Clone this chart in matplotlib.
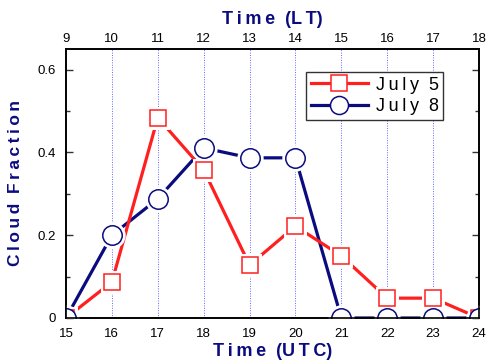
import matplotlib
matplotlib.use("Agg")
import matplotlib.pyplot as plt
from matplotlib.lines import Line2D

plt.rcParams['font.family'] = ['Liberation Sans', 'DejaVu Sans']

hours_utc = [15, 16, 17, 18, 19, 20, 21, 22, 23, 24]
july5 = [0.0, 0.087, 0.484, 0.358, 0.128, 0.222, 0.150, 0.048, 0.048, 0.0]
july8 = [0.0, 0.200, 0.288, 0.411, 0.387, 0.387, 0.0, 0.0, 0.0, 0.0]
lt_labels = ['9', '10', '11', '12', '13', '14', '15', '16', '17', '18']
yticks = [0, 0.2, 0.4, 0.6]
ytick_labels = ['0', '0.2', '0.4', '0.6']

navy = '#0b0b80'
red = '#ff1f1f'
HS = '\u2009'


def spaced(s):
    return HS.join(s)


fig = plt.figure(figsize=(4.92, 3.63), dpi=100)
ax = fig.add_axes([66/492, 1-318/363, (479-66)/492, (318-49)/363])

for x in hours_utc[1:-1]:
    ax.axvline(x, color='#6666ff', lw=0.7, ls=(0, (1, 1.5)), zorder=1)

ax.plot(hours_utc, july5, color=red, lw=2.3, zorder=3, solid_capstyle='butt')
ax.plot(hours_utc, july8, color=navy, lw=2.3, zorder=2, solid_capstyle='butt')
ax.plot(hours_utc, july5, ls='none', marker='s', ms=12, mfc='white', mec='white', mew=5, zorder=4)
ax.plot(hours_utc, july5, ls='none', marker='s', ms=12, mfc='white', mec=red, mew=1.1, zorder=5)
ax.plot(hours_utc, july8, ls='none', marker='o', ms=14, mfc='white', mec='white', mew=5, zorder=4)
ax.plot(hours_utc, july8, ls='none', marker='o', ms=14, mfc='white', mec=navy, mew=1.1, zorder=5)

ax.set_xlim(15, 24)
ax.set_ylim(0, 0.65)
ax.set_xticks(hours_utc)
ax.set_yticks(yticks)
ax.set_yticklabels(ytick_labels)
ax.set_yticks([0.1, 0.3, 0.5], minor=True)
ax.tick_params(axis='both', which='both', direction='in', labelsize=9.5, width=1, color='#333333')
ax.tick_params(axis='y', which='major', length=5, right=True, pad=7)
ax.tick_params(axis='y', which='minor', length=3, right=True)
ax.tick_params(axis='x', length=0, pad=7)
for s in ax.spines.values():
    s.set_linewidth(1.2)

ax.set_xlabel(spaced('Time') + '  (' + spaced('UTC') + ')', fontsize=13, fontweight='bold', color=navy, labelpad=2)
ax.set_ylabel(spaced('Cloud') + '  ' + spaced('Fraction'), fontsize=12.5, fontweight='bold', color=navy, labelpad=11)

ax2 = ax.twiny()
ax2.set_xlim(15, 24)
ax2.set_xticks(hours_utc)
ax2.set_xticklabels(lt_labels)
ax2.tick_params(axis='x', length=0, labelsize=9.5, pad=3)
for s in ax2.spines.values():
    s.set_linewidth(1.2)
ax2.set_xlabel(spaced('Time') + '  (' + spaced('LT') + ')', fontsize=13, fontweight='bold', color=navy, labelpad=6)

h5 = Line2D([], [], color=red, lw=2.3, marker='s', ms=12, mfc='white', mec=red, mew=1.1)
h8 = Line2D([], [], color=navy, lw=2.3, marker='o', ms=13, mfc='white', mec=navy, mew=1.1)
leg = ax.legend([h5, h8], [spaced('July') + '  5', spaced('July') + '  8'], loc='upper left',
                bbox_to_anchor=((306-66)/413, (318-72)/269), fontsize=13, fancybox=False,
                edgecolor='#333333', framealpha=1, handlelength=3.2,
                borderpad=0.25, labelspacing=0.25, handletextpad=0.4, borderaxespad=0)
leg.get_frame().set_linewidth(1)

fig.savefig('out.png', dpi=100)
